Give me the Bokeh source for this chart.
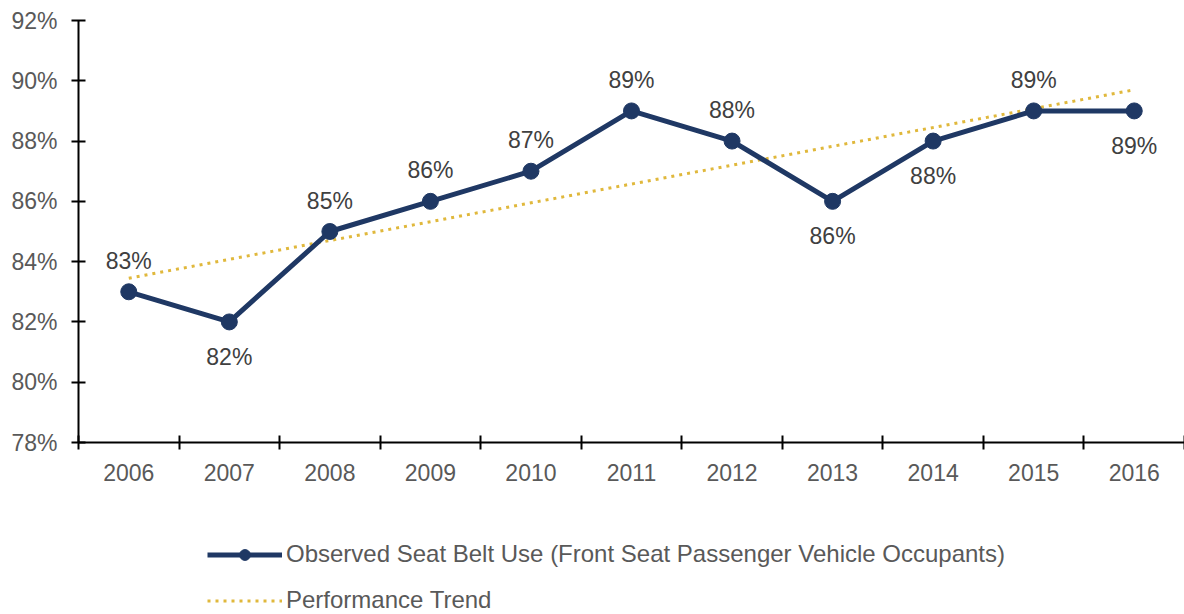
from bokeh.plotting import figure
from bokeh.layouts import column
from bokeh.models import (ColumnDataSource, FixedTicker, Legend, LegendItem,
                          PrintfTickFormatter, Range1d)
from bokeh.embed import file_html
from bokeh.resources import INLINE

years = [2006, 2007, 2008, 2009, 2010, 2011, 2012, 2013, 2014, 2015, 2016]
seat_belt_use = [83, 82, 85, 86, 87, 89, 88, 86, 88, 89, 89]
labels_below_years = [2007, 2013, 2014, 2016]
trend_years = [2006, 2016]
trend_values = [83.45, 89.7]
y_ticks = [78, 80, 82, 84, 86, 88, 90, 92]
series_name = "Observed Seat Belt Use (Front Seat Passenger Vehicle Occupants)"
trend_name = "Performance Trend"

NAVY = "#1F3864"
GOLD = "#E0B83C"
FONT = "Liberation Sans"
FS = "23px"

p = figure(width=1184, height=500, output_backend="svg", toolbar_location=None,
           x_range=Range1d(2005.5, 2016.5), y_range=Range1d(78, 92),
           min_border_left=78, min_border_right=0, min_border_top=20,
           min_border_bottom=58, outline_line_color=None)
p.xgrid.visible = False
p.ygrid.visible = False

xa = p.xaxis[0]
xa.ticker = FixedTicker(ticks=years, minor_ticks=[y - 0.5 for y in years] + [2016.5])
xa.major_tick_in = 0
xa.major_tick_out = 0
xa.minor_tick_in = 7
xa.minor_tick_out = 7
xa.minor_tick_line_color = "black"
xa.minor_tick_line_width = 2
xa.axis_line_color = "black"
xa.axis_line_width = 2
xa.major_label_standoff = 14
xa.major_label_text_font = FONT
xa.major_label_text_font_size = FS
xa.major_label_text_color = "#595959"

ya = p.yaxis[0]
ya.ticker = FixedTicker(ticks=y_ticks, minor_ticks=[])
ya.formatter = PrintfTickFormatter(format="%d%%")
ya.major_tick_in = 7
ya.major_tick_out = 7
ya.major_tick_line_width = 2
ya.axis_line_width = 2
ya.major_label_standoff = 14
ya.major_label_text_font = FONT
ya.major_label_text_font_size = FS
ya.major_label_text_color = "#595959"

trend_style = dict(line_color=GOLD, line_width=3, line_dash="3 5")
line_style = dict(line_color=NAVY, line_width=5)
marker_style = dict(size=16, fill_color=NAVY, line_color=NAVY)

p.line(trend_years, trend_values, **trend_style)
src = ColumnDataSource(dict(x=years, y=seat_belt_use))
p.line("x", "y", source=src, **line_style)
p.scatter("x", "y", source=src, **marker_style)

above = ColumnDataSource(dict(
    x=[x for x in years if x not in labels_below_years],
    y=[v for x, v in zip(years, seat_belt_use) if x not in labels_below_years],
    lbl=[f"{v}%" for x, v in zip(years, seat_belt_use) if x not in labels_below_years]))
below = ColumnDataSource(dict(
    x=[x for x in years if x in labels_below_years],
    y=[v for x, v in zip(years, seat_belt_use) if x in labels_below_years],
    lbl=[f"{v}%" for x, v in zip(years, seat_belt_use) if x in labels_below_years]))

for s, off in ((above, -31), (below, 35)):
    p.text("x", "y", text="lbl", source=s, y_offset=off, text_align="center",
           text_baseline="middle", text_font={"value": FONT},
           text_font_size=FS, text_color="#404040")

# legend figure
q = figure(width=1184, height=114, output_backend="svg", toolbar_location=None,
           x_range=Range1d(0, 1), y_range=Range1d(0, 1),
           x_axis_location=None, y_axis_location=None,
           min_border=0, outline_line_color=None)
q.xgrid.visible = False
q.ygrid.visible = False
dummy = ColumnDataSource(dict(x=[-10, -9], y=[-10, -9]))
ln = q.line("x", "y", source=dummy, **line_style)
sc = q.scatter("x", "y", source=dummy, size=14, fill_color=NAVY, line_color=NAVY)
tr = q.line("x", "y", source=dummy, **trend_style)

legend = Legend(items=[LegendItem(label=series_name, renderers=[ln, sc]),
                       LegendItem(label=trend_name, renderers=[tr])],
                location=(129, 0), orientation="vertical",
                margin=0, padding=0, spacing=18,
                glyph_width=75, glyph_height=27, label_height=27,
                label_standoff=4,
                label_text_font=FONT, label_text_font_size="24px",
                label_text_color="#595959",
                border_line_color=None, background_fill_alpha=0)
q.add_layout(legend, "center")

layout = column(p, q, spacing=0)
open("out.html", "w").write(file_html(layout, INLINE))
